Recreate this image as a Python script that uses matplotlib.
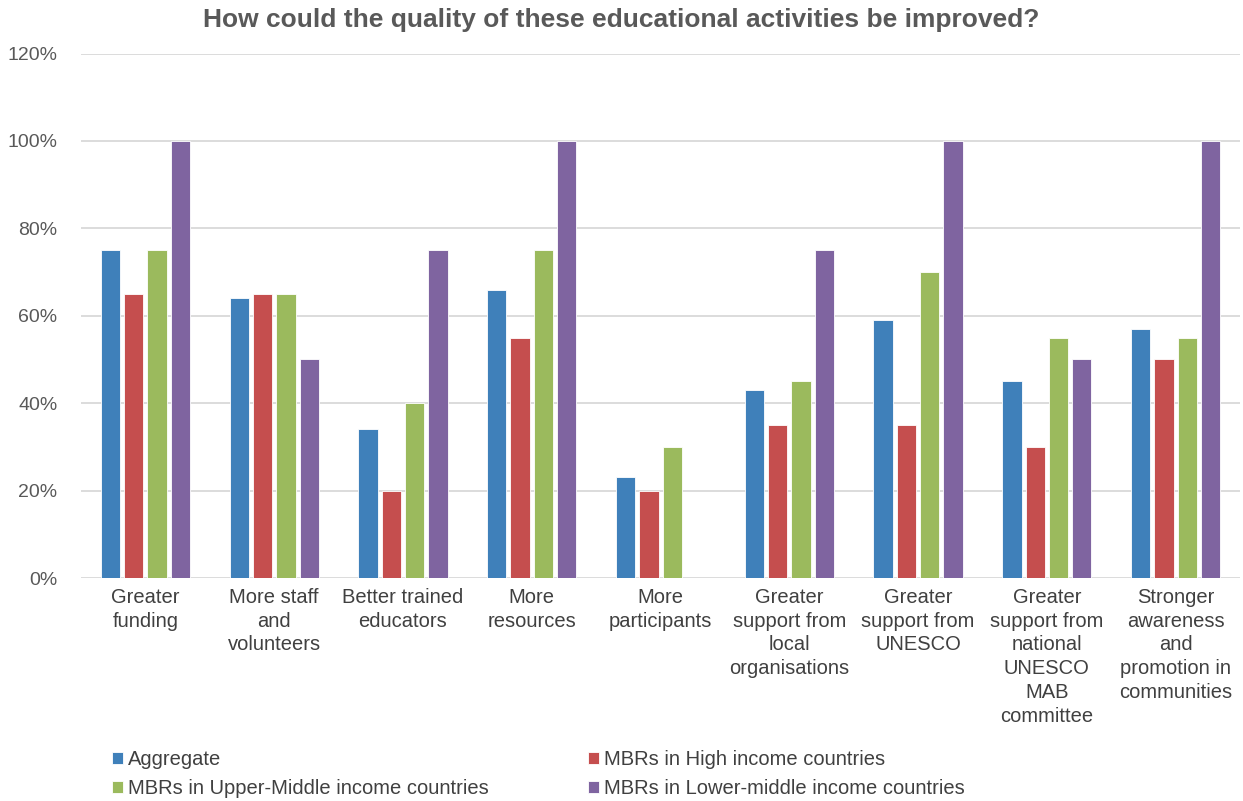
import matplotlib.pyplot as plt
import numpy as np
from matplotlib.ticker import FuncFormatter

plt.rcParams['font.family'] = ['Liberation Sans', 'DejaVu Sans']

categories = [
    "Greater\nfunding",
    "More staff\nand\nvolunteers",
    "Better trained\neducators",
    "More\nresources",
    "More\nparticipants",
    "Greater\nsupport from\nlocal\norganisations",
    "Greater\nsupport from\nUNESCO",
    "Greater\nsupport from\nnational\nUNESCO\nMAB\ncommittee",
    "Stronger\nawareness\nand\npromotion in\ncommunities",
]

series_names = [
    "Aggregate",
    "MBRs in High income countries",
    "MBRs in Upper-Middle income countries",
    "MBRs in Lower-middle income countries",
]

aggregate = [75, 64, 34, 66, 23, 43, 59, 45, 57]
high_income = [65, 65, 20, 55, 20, 35, 35, 30, 50]
upper_middle = [75, 65, 40, 75, 30, 45, 70, 55, 55]
lower_middle = [100, 50, 75, 100, 0, 75, 100, 50, 100]

colors = ["#3F80BA", "#C54E4E", "#9BBA5D", "#7F64A0"]
text_color = "#595959"
label_color = "#404040"

fig = plt.figure(figsize=(12.43, 8.01), dpi=100)
ax = fig.add_axes([0.0652, 0.2784, 0.9324, 0.6548])

x = np.arange(len(categories))
pitch = 0.181
width = 0.15
handles = []
for i, (vals, name) in enumerate(zip([aggregate, high_income, upper_middle, lower_middle], series_names)):
    b = ax.bar(x + (i - 1.5) * pitch, vals, width, color=colors[i], edgecolor="white",
               linewidth=0.6, label=name, zorder=3)
    handles.append(b)

ax.set_xlim(-0.5, len(categories) - 0.5)
ax.set_ylim(0, 120)
ax.set_yticks(np.arange(0, 121, 20))
ax.yaxis.set_major_formatter(FuncFormatter(lambda v, _: f"{int(v)}%"))
ax.grid(axis="y", color="#D9D9D9", linewidth=1.3, zorder=0)
ax.set_axisbelow(True)
for s in ax.spines.values():
    s.set_visible(False)
ax.tick_params(axis="both", length=0, colors=text_color)
ax.tick_params(axis="y", labelsize=14, pad=17)
ax.set_xticks(x)
ax.set_xticklabels(categories, fontsize=14.5, color=label_color, linespacing=1.32, va="top")
ax.tick_params(axis="x", pad=7)

fig.text(0.5, 1 - 27 / 801, "How could the quality of these educational activities be improved?",
         fontsize=19, fontweight="bold", color=text_color, ha="center", va="baseline")

order = [0, 2, 1, 3]
fig.legend([handles[k] for k in order], [series_names[k] for k in order],
           ncol=2, loc="lower left", bbox_to_anchor=(0.079, -0.014), frameon=False,
           fontsize=14.5, handlelength=0.55, handleheight=0.55, handletextpad=0.25,
           columnspacing=4.9, labelspacing=0.5, labelcolor=label_color,
           borderaxespad=0.3)

fig.savefig("out.png", dpi=100)
